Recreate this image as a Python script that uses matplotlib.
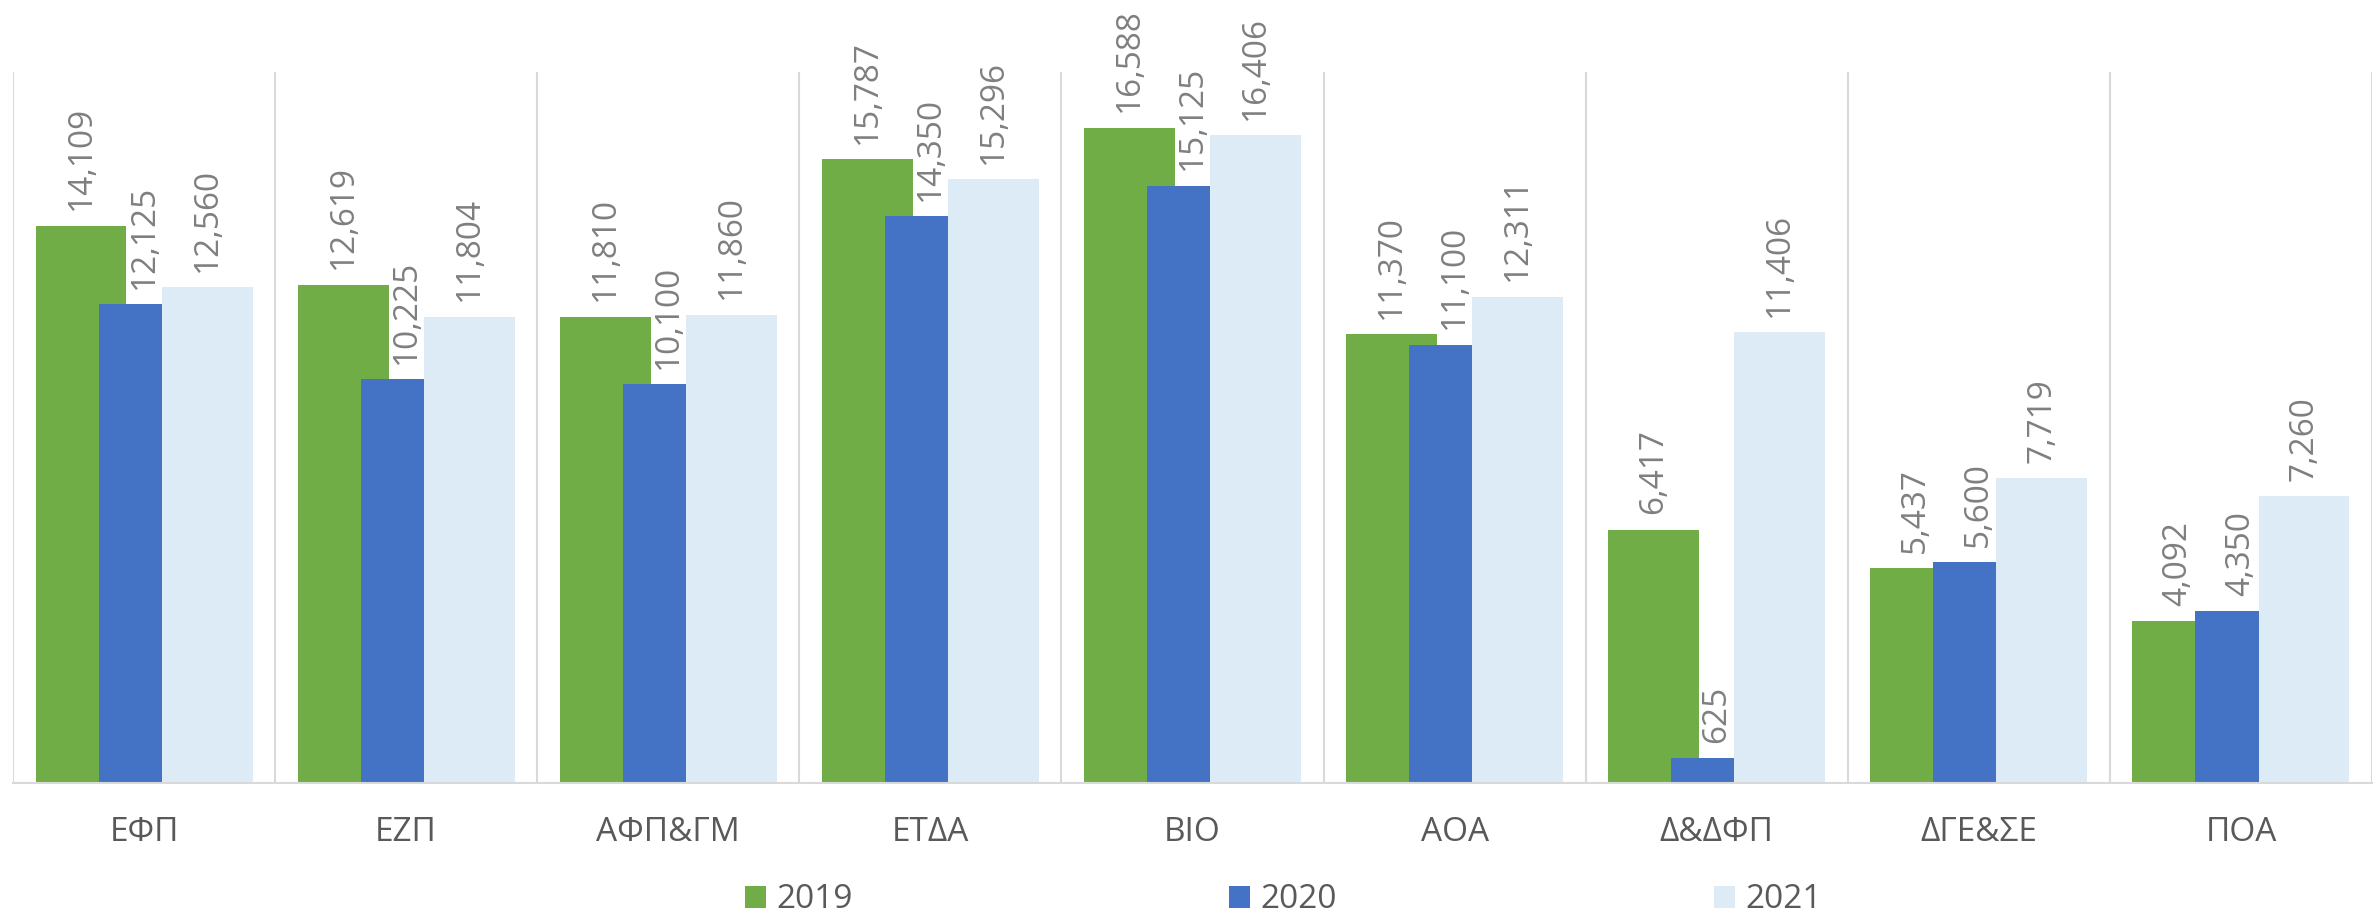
import numpy as np
import matplotlib
matplotlib.use("Agg")
import matplotlib.pyplot as plt

plt.rcParams["font.family"] = ["Open Sans", "DejaVu Sans"]

categories = ["ΕΦΠ", "ΕΖΠ", "ΑΦΠ&ΓΜ", "ΕΤΔΑ", "ΒΙΟ", "ΑΟΑ", "Δ&ΔΦΠ", "ΔΓΕ&ΣΕ", "ΠΟΑ"]
years = ["2019", "2020", "2021"]
values_2019 = [14109, 12619, 11810, 15787, 16588, 11370, 6417, 5437, 4092]
values_2020 = [12125, 10225, 10100, 14350, 15125, 11100, 625, 5600, 4350]
values_2021 = [12560, 11804, 11860, 15296, 16406, 12311, 11406, 7719, 7260]

colors = ["#70ad47", "#4472c4", "#ddebf7"]
grid_color = "#d9d9d9"

fig = plt.figure(figsize=(23.76, 9.17), dpi=100)
ax = fig.add_axes([13 / 2376, 1 - 783 / 917, (2372 - 13) / 2376, (783 - 72) / 917])

x = np.arange(len(categories))
width = 0.347
step = 0.2405
series = [values_2019, values_2020, values_2021]

ymax = 18000
ax.vlines(np.arange(-0.5, len(categories)), 0, ymax, color=grid_color, lw=1.5, zorder=0)

for i, (vals, year, col) in enumerate(zip(series, years, colors)):
    pos = x + (i - 1) * step
    ax.bar(pos, vals, width=width, color=col, label=year, zorder=2 + i)
    for p, v in zip(pos, vals):
        ax.annotate(f"{v:,}", (p, v), xytext=(0, 11), textcoords="offset points",
                    rotation=90, ha="center", va="bottom", fontsize=24,
                    color="#7f7f7f", zorder=10)

ax.set_xlim(-0.5, len(categories) - 0.5)
ax.set_ylim(0, ymax)
ax.set_yticks([])
ax.set_xticks(x)
ax.set_xticklabels(categories, fontsize=24, color="#595959")
ax.tick_params(axis="x", length=0, pad=24)
for s in ["top", "left", "right"]:
    ax.spines[s].set_visible(False)
ax.spines["bottom"].set_color(grid_color)
ax.spines["bottom"].set_linewidth(1.5)
ax.spines["bottom"].set_zorder(6)

fig.legend(loc="center left", bbox_to_anchor=(745 / 2376, 1 - 900 / 917), ncol=3,
           frameon=False, fontsize=24, handlelength=0.62, handleheight=0.62,
           handletextpad=0.32, columnspacing=11.3, borderpad=0, borderaxespad=0,
           labelcolor="#595959")

fig.savefig("out.png", dpi=100)
